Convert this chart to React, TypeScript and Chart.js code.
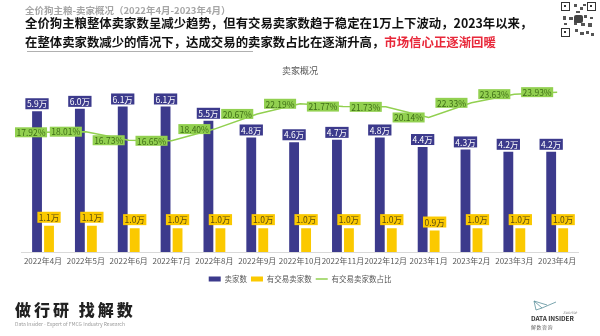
import React, { useEffect, useRef } from "react";
import { Chart, registerables } from "chart.js";

Chart.register(...registerables);

const FONT = "'Noto Sans CJK SC', 'Noto Sans', sans-serif";

const categories = [
  "2022年4月", "2022年5月", "2022年6月", "2022年7月", "2022年8月", "2022年9月",
  "2022年10月", "2022年11月", "2022年12月", "2023年1月", "2023年2月", "2023年3月", "2023年4月",
];
const sellers = [5.9, 6.0, 6.1, 6.1, 5.5, 4.8, 4.6, 4.7, 4.8, 4.4, 4.3, 4.2, 4.2];
const tradingSellers = [1.1, 1.1, 1.0, 1.0, 1.0, 1.0, 1.0, 1.0, 1.0, 0.9, 1.0, 1.0, 1.0];
const tradingShare = [17.92, 18.01, 16.73, 16.65, 18.40, 20.67, 22.19, 21.77, 21.73, 20.14, 22.33, 23.63, 23.93];

const BLUE = "#3c3a8c";
const YELLOW = "#fbc900";
const GREEN = "#92d050";

function box(ctx: CanvasRenderingContext2D, x: number, y: number, w: number, h: number, fill: string) {
  ctx.fillStyle = fill;
  ctx.fillRect(x, y, w, h);
}

const labelPlugin = {
  id: "valueLabels",
  afterDatasetsDraw(chart: any) {
    const ctx: CanvasRenderingContext2D = chart.ctx;
    ctx.save();
    ctx.font = `8.5px ${FONT}`;
    ctx.textAlign = "center";
    ctx.textBaseline = "middle";
    chart.data.datasets.forEach((ds: any, di: number) => {
      const meta = chart.getDatasetMeta(di);
      meta.data.forEach((el: any, i: number) => {
        const v = ds.data[i] as number;
        if (di === 0 || di === 1) {
          const text = v.toFixed(1) + "万";
          const w = ctx.measureText(text).width + 3;
          const h = 11;
          const bottom = el.y - (di === 0 ? 2 : 3);
          const fill = di === 0 ? BLUE : YELLOW;
          box(ctx, el.x - w / 2, bottom - h, w, h, fill);
          ctx.fillStyle = di === 0 ? "#ffffff" : "#5a4a10";
          ctx.fillText(text, el.x, bottom - h / 2 + 0.5);
        } else {
          const text = v.toFixed(2) + "%";
          const w = ctx.measureText(text).width + 3;
          const h = 10;
          const right = el.x - 4;
          let left = right - w;
          if (left < 15) left = 15;
          box(ctx, left, el.y - h / 2, w, h, GREEN);
          ctx.fillStyle = "#3f6e17";
          ctx.fillText(text, left + w / 2, el.y + 0.5);
        }
      });
    });
    ctx.restore();
  },
};

function ChartView() {
  const ref = useRef<HTMLCanvasElement | null>(null);
  useEffect(() => {
    if (!ref.current) return;
    Chart.defaults.font.family = FONT;
    const chart = new Chart(ref.current, {
      type: "bar",
      data: {
        labels: categories,
        datasets: [
          {
            type: "bar",
            label: "卖家数",
            data: sellers,
            backgroundColor: BLUE,
            yAxisID: "y",
            order: 2,
            categoryPercentage: 0.56,
            barPercentage: 0.82,
            pointStyle: "rect",
          } as any,
          {
            type: "bar",
            label: "有交易卖家数",
            data: tradingSellers,
            backgroundColor: YELLOW,
            yAxisID: "y",
            order: 2,
            categoryPercentage: 0.56,
            barPercentage: 0.82,
            pointStyle: "rect",
          } as any,
          {
            type: "line",
            label: "有交易卖家数占比",
            data: tradingShare,
            borderColor: GREEN,
            backgroundColor: GREEN,
            borderWidth: 1.5,
            pointRadius: 0,
            tension: 0,
            yAxisID: "y1",
            order: 0,
            pointStyle: "line",
          } as any,
        ],
      },
      options: {
        responsive: false,
        animation: false,
        layout: { padding: { top: 85, left: 21.6, right: 21.4, bottom: 43.25 } },
        plugins: {
          tooltip: { enabled: false },
          title: { display: false },
          legend: {
            display: true,
            position: "bottom",
            labels: {
              usePointStyle: true,
              pointStyleWidth: 12,
              boxHeight: 5,
              padding: 4,
              color: "#595959",
              font: { size: 7.5, family: FONT },
              sort: (a: any, b: any) => a.datasetIndex - b.datasetIndex,
            },
          },
        },
        scales: {
          x: {
            offset: true,
            grid: { display: false, drawTicks: false },
            border: { color: "#d9d9d9" },
            ticks: {
              color: "#595959",
              font: { size: 8, family: FONT },
              padding: 4,
              maxRotation: 0,
              autoSkip: false,
            },
            afterFit: (scale: any) => {
              scale.height = 19.25;
            },
          },
          y: { display: false, min: 0, max: 7 },
          y1: { display: false, min: 0, max: 25, position: "right" },
        },
      },
      plugins: [labelPlugin],
    });
    return () => chart.destroy();
  }, []);
  return <canvas ref={ref} width={600} height={336} style={{ position: "absolute", left: 0, top: 0 }} />;
}

function QRCode() {
  const cells: [number, number, number, number][] = [
    [14, 3, 3, 3], [20, 6, 3, 3], [16, 10, 4, 2], [3, 15, 3, 4], [9, 16, 4, 3], [24, 14, 3, 3],
    [30, 16, 3, 2], [14, 20, 3, 4], [21, 22, 4, 3], [28, 22, 4, 4], [15, 28, 3, 3], [20, 31, 4, 3],
    [26, 30, 3, 3], [31, 32, 3, 3], [23, 3, 3, 2], [4, 22, 3, 2],
  ];
  const finder = (x: number, y: number) => (
    <div style={{ position: "absolute", left: x, top: y, width: 9, height: 9, border: "1.5px solid #333", boxSizing: "border-box" }}>
      <div style={{ position: "absolute", left: 2, top: 2, width: 2, height: 2, background: "#333" }} />
    </div>
  );
  return (
    <div style={{ position: "absolute", left: 560, top: 1, width: 37, height: 37, background: "#fff" }}>
      {finder(1, 1)}
      {finder(27, 1)}
      {finder(1, 27)}
      {cells.map((c, i) => (
        <div key={i} style={{ position: "absolute", left: c[0], top: c[1], width: c[2], height: c[3], background: "#555" }} />
      ))}
      <div style={{ position: "absolute", left: 14, top: 14, width: 9, height: 8, background: "#444", borderRadius: 2 }} />
    </div>
  );
}

export default function App() {
  return (
    <div
      style={{
        position: "fixed",
        left: 0,
        top: 0,
        width: 600,
        height: 336,
        background: "#ffffff",
        overflow: "hidden",
        fontFamily: FONT,
      }}
    >
      <ChartView />
      <div style={{ position: "absolute", left: 25, top: 5, fontSize: 9.5, lineHeight: "11px", fontWeight: 700, color: "#a6a6a6", whiteSpace: "nowrap" }}>
        全价狗主粮-卖家概况（2022年4月-2023年4月）
      </div>
      <div style={{ position: "absolute", left: 25, top: 14, fontSize: 12.4, lineHeight: "19px", fontWeight: 700, color: "#111", whiteSpace: "nowrap" }}>
        全价狗主粮整体卖家数呈减少趋势，但有交易卖家数趋于稳定在1万上下波动，2023年以来，
        <br />
        在整体卖家数减少的情况下，达成交易的卖家数占比在逐渐升高，<span style={{ color: "#e8283a" }}>市场信心正逐渐回暖</span>
      </div>
      <div style={{ position: "absolute", left: 27, top: 51, width: 226, height: 1, background: "#b0b0b0" }} />
      <QRCode />
      <div style={{ position: "absolute", left: 0, width: 600, top: 65, textAlign: "center", fontSize: 9, lineHeight: "12px", color: "#595959" }}>
        卖家概况
      </div>
      <div style={{ position: "absolute", left: 15, top: 299, fontSize: 16, lineHeight: "20px", fontWeight: 900, letterSpacing: 3, color: "#222", whiteSpace: "nowrap" }}>
        做行研 找解数
      </div>
      <div style={{ position: "absolute", left: 15, top: 321, fontSize: 5, lineHeight: "6px", color: "#9a9a9a", whiteSpace: "nowrap" }}>
        Data Insider - Expert of FMCG Industry Research
      </div>
      <svg style={{ position: "absolute", left: 533, top: 299 }} width="24" height="13" viewBox="0 0 24 13">
        <path d="M1 2 L9 9 L23 3 M1 2 L3 11 L9 9 M1 2 L14 6" stroke="#5a8f9a" strokeWidth="0.8" fill="none" />
      </svg>
      <div style={{ position: "absolute", left: 563, top: 309, fontSize: 4, fontStyle: "italic", color: "#888", whiteSpace: "nowrap" }}>
        Sunrise
      </div>
      <div style={{ position: "absolute", left: 531, top: 313, fontSize: 6.5, lineHeight: "10px", fontWeight: 600, letterSpacing: -0.1, color: "#333", whiteSpace: "nowrap" }}>
        DATA INSIDER
      </div>
      <div style={{ position: "absolute", left: 531, top: 324, fontSize: 5, lineHeight: "6px", color: "#666", whiteSpace: "nowrap", letterSpacing: 0.5 }}>
        解数咨询
      </div>
    </div>
  );
}
